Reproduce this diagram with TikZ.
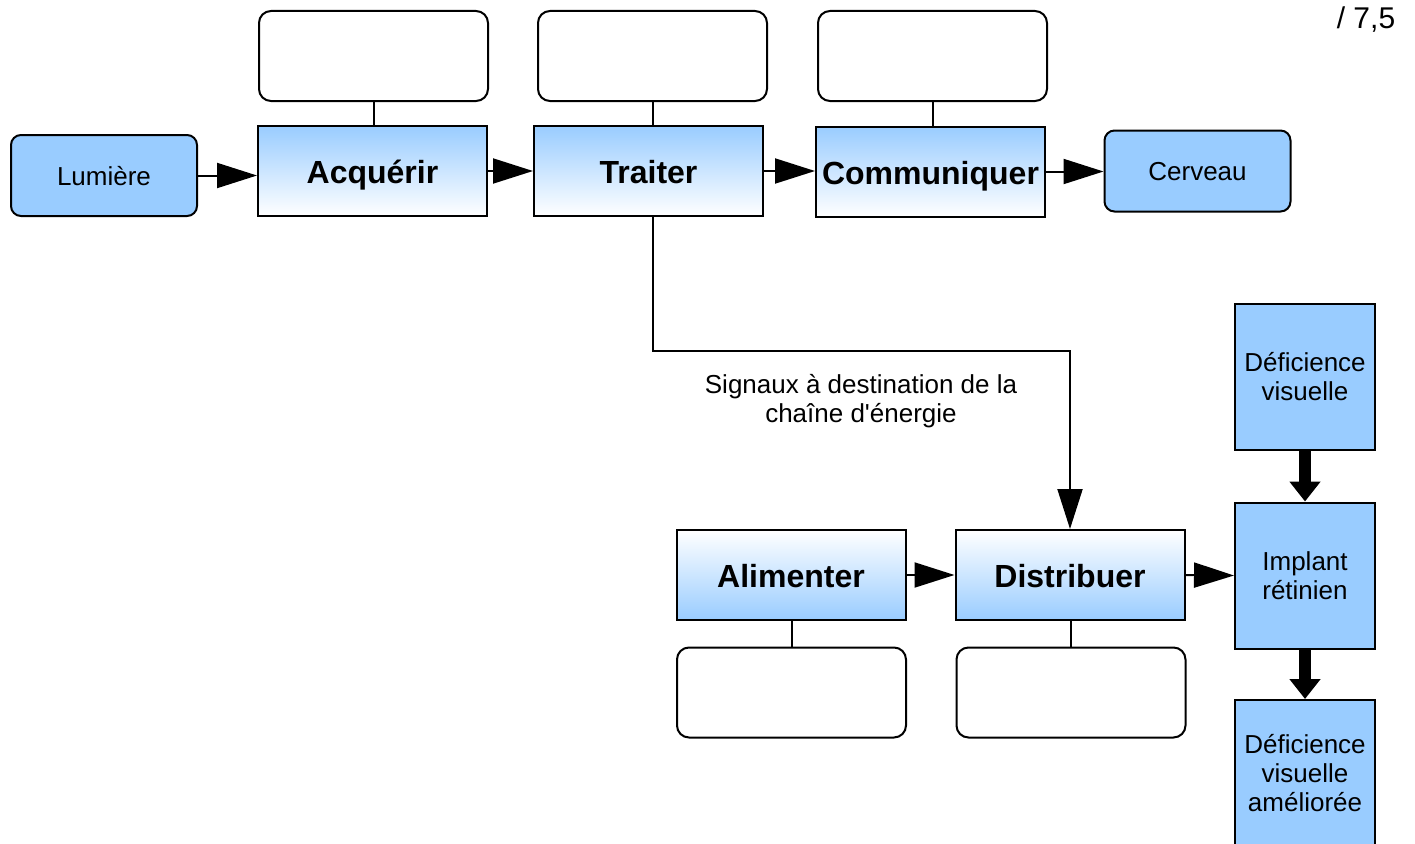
\documentclass[tikz,border=0pt]{standalone}
\usepackage{fontspec}
\setmainfont{Liberation Sans}
\usetikzlibrary{arrows.meta}
\definecolor{blueA}{RGB}{153,204,255}
\begin{document}
\begin{tikzpicture}[x=1pt,y=-1pt,
  every node/.style={font=\fontsize{26}{29}\selectfont},
  base/.style={draw, line width=2pt, inner sep=2pt},
  boldtxt/.style={font=\fontsize{32}{34}\selectfont\bfseries, text height=25pt, text depth=0pt},
  fboxt/.style={base, boldtxt, minimum width=229pt, minimum height=90pt, top color=blueA, bottom color=white},
  fboxb/.style={base, boldtxt, minimum width=229pt, minimum height=90pt, top color=white, bottom color=blueA},
  ebox/.style={base, rounded corners=12pt, fill=white, minimum width=229pt, minimum height=90pt},
  rbox/.style={base, rounded corners=10pt, fill=blueA, minimum width=186pt, minimum height=81pt, text height=19pt, text depth=0pt},
  cbox/.style={base, fill=blueA, minimum width=140pt, minimum height=146pt, align=center},
  arr/.style={line width=2pt, -{Triangle[length=40pt,width=25pt]}},
  bigarr/.style={line width=12pt, -{Triangle[length=20pt,width=30pt]}},
  conn/.style={line width=2pt}]
\useasboundingbox (0,0) rectangle (1415,843);
% top row
\node[rbox] (lum) at (104,175.5) {Lumière};
\node[fboxt] (acq) at (372.5,171) {Acquérir};
\node[fboxt] (tra) at (648.5,171) {Traiter};
\node[fboxt] (com) at (930.5,171.5) {Communiquer};
\node[rbox] (cer) at (1197.5,171) {Cerveau};
\node[ebox] (e1) at (373.5,56) {};
\node[ebox] (e2) at (652.5,56) {};
\node[ebox] (e3) at (932.5,56) {};
% bottom row
\node[fboxb] (ali) at (791,575) {Alimenter};
\node[fboxb] (dis) at (1070,575) {Distribuer};
\node[ebox] (e4) at (791.5,692.5) {};
\node[ebox] (e5) at (1071,692.5) {};
% right column
\node[cbox] (def) at (1305,377) {Déficience\\visuelle};
\node[cbox] (imp) at (1305,575.5) {Implant\\rétinien};
\node[cbox] (ame) at (1305,773) {Déficience\\visuelle\\améliorée};
% labels
\node[align=center] (sig) at (861,401) {Signaux à destination de la\\chaîne d\textquotesingle énergie};
\node[font=\fontsize{30}{32}\selectfont] (note) at (1366,20) {/ 7,5};
% connectors
\draw[arr] (lum.east) -- (lum.east -| acq.west);
\draw[arr] (acq.east) -- (tra.west);
\draw[arr] (tra.east) -- (tra.east -| com.west);
\draw[arr] (com.east) -- (com.east -| cer.west);
\draw[arr] (ali.east) -- (dis.west);
\draw[arr] (dis.east) -- (imp.west);
\draw[arr] ([xshift=4pt]tra.south) -- ++(0,134) -| (dis.north);
\draw[conn] (e1.south) -- (e1.south |- acq.north);
\draw[conn] (e2.south) -- (e2.south |- tra.north);
\draw[conn] (e3.south) -- (e3.south |- com.north);
\draw[conn] (e4.north) -- (e4.north |- ali.south);
\draw[conn] (e5.north) -- (e5.north |- dis.south);
\draw[bigarr] (def.south) -- (imp.north);
\draw[bigarr] (imp.south) -- (ame.north);
\end{tikzpicture}
\end{document}
